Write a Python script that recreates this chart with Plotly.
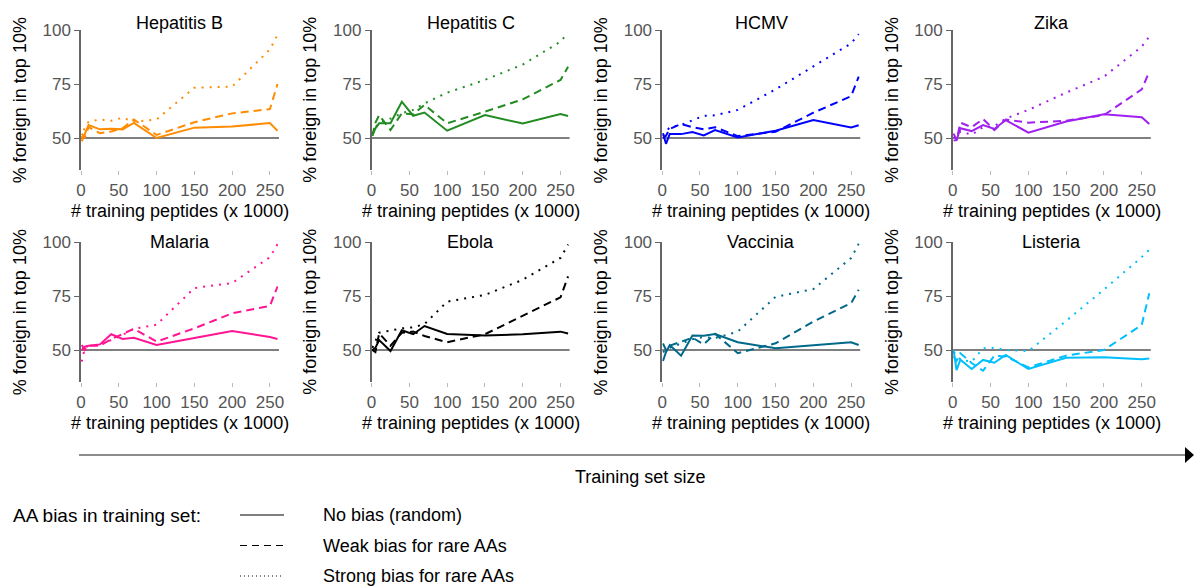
import plotly.graph_objects as go

W, H = 1194, 586

# ---------------- data ----------------
x_vals = [1, 5, 10, 25, 40, 55, 70, 100, 150, 200, 250, 260]

pathogens = ["Hepatitis B", "Hepatitis C", "HCMV", "Zika",
             "Malaria", "Ebola", "Vaccinia", "Listeria"]
colors = ["#FF8C00", "#228B22", "#0000FF", "#A020F0",
          "#FF1493", "#000000", "#00688B", "#00BFFF"]

hepb_none = [48.5, 52, 56, 54, 54.3, 54, 57, 50, 54.8, 55.3, 56.9, 53.3]
hepb_weak = [52, 50, 55, 52.2, 53, 54.5, 58.6, 51.4, 57.3, 61.4, 63.4, 75]
hepb_strong = [50, 55, 57.5, 58.6, 58, 59.4, 57.5, 58.6, 73.3, 73.8, 91, 97.7]

hepc_none = [51, 54.5, 56.8, 56.8, 66.8, 60.3, 61.8, 53.4, 60.6, 56.7, 61.1, 60.2]
hepc_weak = [51, 57, 60.6, 53.7, 61.4, 61, 65.3, 56.8, 62.2, 67.9, 76.9, 83]
hepc_strong = [52, 55, 57, 59, 61.5, 63, 66, 71, 76.9, 84, 94.6, 98.8]

hcmv_none = [52.2, 47.3, 51.9, 51.8, 52.8, 51.2, 53.7, 50.2, 53.4, 58.3, 54.9, 55.9]
hcmv_weak = [50, 51, 54.2, 56.5, 55, 54, 55, 50.9, 52.9, 61.7, 69.4, 78.4]
hcmv_strong = [51, 53, 55, 56, 58, 60.3, 60.5, 63, 72.5, 83, 93.8, 98.1]

zika_none = [48.8, 49, 54.5, 53.2, 56, 54.2, 58.3, 52.5, 57.6, 61, 59.6, 56.5]
zika_weak = [52, 49, 57.1, 55, 58.8, 53.7, 58.5, 57.1, 58, 60.6, 72.5, 80.7]
zika_strong = [50, 51, 53, 51.5, 55, 55.5, 59, 63, 71, 78.4, 92.3, 96.9]

malaria_none = [50, 51.5, 52, 52.6, 57.3, 55.1, 55.7, 52.3, 55.6, 58.8, 56, 55.1]
malaria_weak = [52.3, 50, 52, 52, 55, 57.3, 59.8, 53.9, 60, 67, 70.4, 79.4]
malaria_strong = [44.6, 51, 52, 52.5, 54.6, 57, 59.8, 61.7, 78.7, 81, 93, 99]

ebola_none = [50, 51, 54.6, 49.5, 59.1, 57.3, 61.1, 57.4, 56.7, 57.3, 58.5, 57.6]
ebola_weak = [50, 49, 57.7, 52, 58, 58.5, 56.5, 53.6, 57.3, 66, 74.4, 84.1]
ebola_strong = [51, 54, 58, 59, 60, 60.5, 62, 72.4, 75.5, 82.5, 92.6, 98.8]

vacc_none = [44.9, 49, 52.3, 47.4, 56.7, 56.6, 57.4, 53.6, 50.8, 52.3, 53.6, 52.3]
vacc_weak = [53, 50, 52, 54, 55.7, 52.6, 57.5, 48.5, 53.1, 63.2, 71.7, 77.9]
vacc_strong = [49, 50, 51, 53, 55, 56, 55.5, 58.5, 74.6, 78.2, 92.6, 99.2]

list_none = [50, 40.7, 45.5, 41.2, 45.4, 44.1, 47.7, 41.2, 46.4, 46.6, 45.7, 46.1]
list_weak = [47, 45, 48.5, 44, 40.4, 47.4, 47, 42, 47.4, 50, 61.6, 76.3]
list_strong = [49, 48, 45.5, 44.6, 50.8, 51, 50, 49.5, 63.5, 78, 93, 96.4]

series = [
    (hepb_none, hepb_weak, hepb_strong),
    (hepc_none, hepc_weak, hepc_strong),
    (hcmv_none, hcmv_weak, hcmv_strong),
    (zika_none, zika_weak, zika_strong),
    (malaria_none, malaria_weak, malaria_strong),
    (ebola_none, ebola_weak, ebola_strong),
    (vacc_none, vacc_weak, vacc_strong),
    (list_none, list_weak, list_strong),
]

bias_labels = ["No bias (random)", "Weak bias for rare AAs", "Strong bias for rare AAs"]
x_ticks = [0, 50, 100, 150, 200, 250]
y_ticks = [50, 75, 100]
baseline = 50

# ---------------- layout helpers ----------------
def px(x):
    return x / W

def py(y):
    return 1 - y / H

FONT = "Liberation Sans, Arial, Helvetica, sans-serif"
TXT = 18
col_left = [81, 371.6, 662.2, 952.8]
col_w = 198
row_top = [30, 242]
row_h = 140.4

dashes = ["solid", "8px,5px", "2px,6px"]

fig = go.Figure()
layout = dict(
    width=W, height=H, autosize=False,
    margin=dict(l=0, r=0, t=0, b=0, autoexpand=False),
    paper_bgcolor="white", plot_bgcolor="white",
    showlegend=False,
    font=dict(family=FONT, size=TXT, color="black"),
)
annotations = []
shapes = []

for i, name in enumerate(pathogens):
    r, c = divmod(i, 4)
    n = i + 1
    xa = "x" if n == 1 else f"x{n}"
    ya = "y" if n == 1 else f"y{n}"
    xkey = "xaxis" if n == 1 else f"xaxis{n}"
    ykey = "yaxis" if n == 1 else f"yaxis{n}"
    x0 = col_left[c]
    ytop = row_top[r]
    layout[xkey] = dict(
        domain=[px(x0), px(x0 + col_w)], anchor=ya, range=[0, 262],
        showline=False, showgrid=False, zeroline=False, automargin=False,
        ticks="outside", ticklen=4, tickwidth=1, tickcolor="#bbbbbb",
        tickvals=x_ticks, tickfont=dict(size=17, color="#555555", family=FONT),
    )
    layout[ykey] = dict(
        domain=[py(ytop + row_h), py(ytop)], anchor=xa, range=[35, 100],
        showline=True, linecolor="#666666", linewidth=1.5, automargin=False,
        showgrid=False, zeroline=False,
        ticks="outside", ticklen=5, tickwidth=1.2, tickcolor="#666666",
        tickvals=y_ticks, tickfont=dict(size=17, color="#555555", family=FONT),
    )
    shapes.append(dict(type="line", xref=f"{xa} domain", yref=ya,
                       x0=0, x1=1, y0=baseline, y1=baseline,
                       line=dict(color="black", width=1.2), layer="below"))
    for k, ys in enumerate(series[i]):
        fig.add_trace(go.Scatter(
            x=x_vals, y=ys, mode="lines", xaxis=xa, yaxis=ya,
            name=f"{name} - {bias_labels[k]}",
            line=dict(color=colors[i], width=2, dash=dashes[k]),
        ))
    cx = x0 + col_w / 2
    annotations.append(dict(text=name, x=px(cx), y=py(ytop - 7 if r == 0 else ytop),
                            xref="paper", yref="paper", showarrow=False,
                            xanchor="center", yanchor="middle",
                            font=dict(size=TXT, color="black", family=FONT)))
    annotations.append(dict(text="# training peptides (x 1000)", x=px(cx),
                            y=py(ytop + 181), xref="paper", yref="paper",
                            showarrow=False, xanchor="center", yanchor="middle",
                            font=dict(size=TXT, color="black", family=FONT)))
    annotations.append(dict(text="% foreign in top 10%", x=px(x0 - 61),
                            y=py(ytop + row_h / 2), xref="paper", yref="paper",
                            showarrow=False, textangle=-90,
                            xanchor="center", yanchor="middle",
                            font=dict(size=TXT, color="black", family=FONT)))

# ---------------- bottom arrow ----------------
shapes.append(dict(type="line", xref="paper", yref="paper",
                   x0=px(79), x1=px(1186), y0=py(455), y1=py(455),
                   line=dict(color="#666666", width=1.5)))
shapes.append(dict(type="path", xref="paper", yref="paper",
                   path=f"M {px(1185)},{py(447)} L {px(1194)},{py(455)} L {px(1185)},{py(463)} Z",
                   fillcolor="black", line=dict(color="black", width=0)))
annotations.append(dict(text="Training set size", x=px(640), y=py(477),
                        xref="paper", yref="paper", showarrow=False,
                        xanchor="center", yanchor="middle",
                        font=dict(size=TXT, color="black", family=FONT)))

# ---------------- custom legend ----------------
annotations.append(dict(text="AA bias in training set:", x=px(11), y=py(515),
                        xref="paper", yref="paper", showarrow=False,
                        xanchor="left", yanchor="middle",
                        font=dict(size=19, color="black", family=FONT)))
leg_dash = ["solid", "7px,5px", "1px,3px"]
for k, lab in enumerate(bias_labels):
    yy = 515 + 30.5 * k
    shapes.append(dict(type="line", xref="paper", yref="paper",
                       x0=px(240), x1=px(284), y0=py(yy), y1=py(yy),
                       line=dict(color="black", width=1.2, dash=leg_dash[k])))
    annotations.append(dict(text=lab, x=px(321), y=py(yy),
                            xref="paper", yref="paper", showarrow=False,
                            xanchor="left", yanchor="middle",
                            font=dict(size=TXT, color="black", family=FONT)))

layout["annotations"] = annotations
layout["shapes"] = shapes
fig.update_layout(**layout)
fig.write_html(
    "out.html",
    config={"displayModeBar": False},
    post_script="document.body.style.margin='0px';"
                "document.documentElement.style.overflow='hidden';"
                "document.body.style.overflow='hidden';",
)
